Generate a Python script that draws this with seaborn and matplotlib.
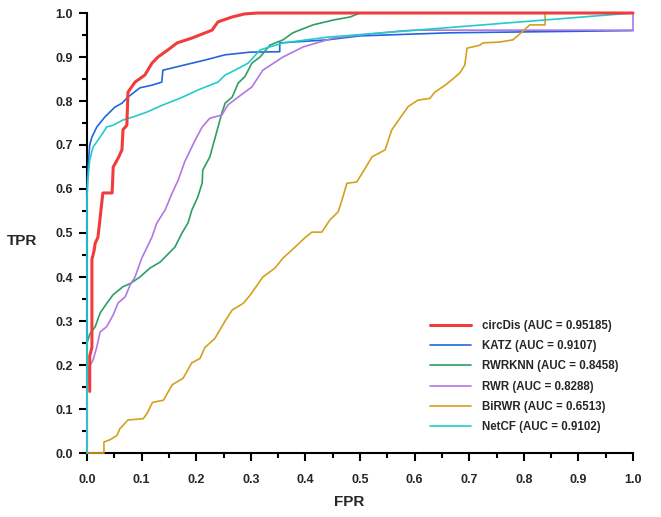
import matplotlib
matplotlib.use('Agg')
import matplotlib.pyplot as plt
from matplotlib.ticker import MultipleLocator, FormatStrFormatter
import pandas as pd
import seaborn as sns

# ROC points (FPR, TPR)
circdis_fpr = [0.005, 0.005, 0.009, 0.009, 0.013, 0.015, 0.020, 0.024, 0.029, 0.046, 0.048, 0.057,
               0.064, 0.066, 0.073, 0.075, 0.088, 0.106, 0.119, 0.130, 0.148, 0.165, 0.192, 0.229,
               0.240, 0.266, 0.289, 0.313, 1.0]
circdis_tpr = [0.14, 0.22, 0.24, 0.44, 0.46, 0.477, 0.49, 0.534, 0.591, 0.591, 0.65, 0.67,
               0.689, 0.735, 0.745, 0.82, 0.843, 0.859, 0.886, 0.90, 0.916, 0.932, 0.943, 0.961,
               0.98, 0.991, 0.998, 1.0, 1.0]

katz_fpr = [0, 0, 0.002, 0.005, 0.009, 0.018, 0.033, 0.051, 0.064, 0.075, 0.097, 0.119, 0.137,
            0.139, 0.179, 0.216, 0.253, 0.299, 0.353, 0.353, 0.44, 0.5, 0.665, 1.0]
katz_tpr = [0, 0.60, 0.65, 0.70, 0.718, 0.741, 0.764, 0.786, 0.795, 0.809, 0.83, 0.836, 0.843,
            0.87, 0.882, 0.893, 0.905, 0.911, 0.912, 0.932, 0.939, 0.948, 0.955, 0.96]

rwrknn_fpr = [0, 0, 0.005, 0.015, 0.024, 0.036, 0.048, 0.066, 0.079, 0.097, 0.115, 0.134, 0.161,
              0.174, 0.185, 0.192, 0.203, 0.211, 0.212, 0.225, 0.24, 0.247, 0.253, 0.266, 0.277,
              0.289, 0.302, 0.317, 0.335, 0.359, 0.377, 0.414, 0.451, 0.482, 0.50, 1.0]
rwrknn_tpr = [0, 0.25, 0.27, 0.287, 0.318, 0.34, 0.36, 0.378, 0.385, 0.40, 0.42, 0.434, 0.468,
              0.50, 0.523, 0.552, 0.582, 0.614, 0.643, 0.673, 0.741, 0.773, 0.795, 0.809, 0.841,
              0.855, 0.886, 0.90, 0.927, 0.939, 0.955, 0.973, 0.984, 0.991, 1.0, 1.0]

rwr_fpr = [0, 0, 0.004, 0.011, 0.018, 0.024, 0.036, 0.048, 0.057, 0.07, 0.079, 0.088, 0.10,
           0.119, 0.128, 0.143, 0.156, 0.167, 0.179, 0.198, 0.211, 0.225, 0.247, 0.258, 0.277,
           0.302, 0.322, 0.359, 0.396, 0.451, 0.50, 0.573, 0.60, 1.0, 1.0]
rwr_tpr = [0, 0.14, 0.196, 0.211, 0.241, 0.275, 0.287, 0.314, 0.341, 0.355, 0.382, 0.40, 0.442,
           0.491, 0.523, 0.552, 0.591, 0.62, 0.662, 0.711, 0.741, 0.761, 0.768, 0.791, 0.809,
           0.832, 0.87, 0.90, 0.923, 0.943, 0.95, 0.959, 0.961, 0.961, 1.0]

birwr_fpr = [0, 0.031, 0.031, 0.042, 0.055, 0.06, 0.075, 0.103, 0.11, 0.12, 0.14, 0.156, 0.176,
             0.192, 0.207, 0.216, 0.234, 0.253, 0.266, 0.286, 0.299, 0.322, 0.344, 0.359, 0.375,
             0.399, 0.412, 0.43, 0.445, 0.46, 0.467, 0.476, 0.494, 0.506, 0.522, 0.546, 0.558,
             0.567, 0.588, 0.606, 0.628, 0.637, 0.656, 0.668, 0.683, 0.692, 0.696, 0.72, 0.725,
             0.756, 0.78, 0.797, 0.811, 0.839, 0.839, 1.0]
birwr_tpr = [0, 0, 0.025, 0.03, 0.04, 0.055, 0.075, 0.078, 0.09, 0.115, 0.12, 0.155, 0.17,
             0.205, 0.215, 0.24, 0.26, 0.30, 0.325, 0.34, 0.359, 0.40, 0.42, 0.443, 0.461,
             0.489, 0.502, 0.502, 0.53, 0.548, 0.575, 0.613, 0.616, 0.64, 0.673, 0.689, 0.734,
             0.75, 0.787, 0.802, 0.806, 0.82, 0.836, 0.848, 0.864, 0.882, 0.92, 0.927, 0.932,
             0.934, 0.939, 0.957, 0.973, 0.973, 1.0, 1.0]

netcf_fpr = [0, 0, 0.002, 0.005, 0.011, 0.02, 0.029, 0.036, 0.048, 0.066, 0.085, 0.11, 0.139,
             0.17, 0.207, 0.24, 0.253, 0.271, 0.295, 0.317, 0.359, 0.44, 1.0]
netcf_tpr = [0, 0.58, 0.627, 0.666, 0.695, 0.711, 0.727, 0.741, 0.745, 0.757, 0.764, 0.775, 0.791,
             0.806, 0.827, 0.843, 0.859, 0.87, 0.886, 0.916, 0.932, 0.945, 1.0]

labels = ['circDis (AUC = 0.95185)', 'KATZ (AUC = 0.9107)', 'RWRKNN (AUC = 0.8458)',
          'RWR (AUC = 0.8288)', 'BiRWR (AUC = 0.6513)', 'NetCF (AUC = 0.9102)']
colors = ['#f03c3c', '#2266dd', '#2e9e62', '#b277e0', '#d4a11e', '#22cccc']
widths = [2.2, 1.2, 1.2, 1.2, 1.2, 1.2]

curves = [(circdis_fpr, circdis_tpr), (katz_fpr, katz_tpr), (rwrknn_fpr, rwrknn_tpr),
          (rwr_fpr, rwr_tpr), (birwr_fpr, birwr_tpr), (netcf_fpr, netcf_tpr)]

sns.set_style('ticks')
plt.rcParams['font.family'] = ['Liberation Sans', 'DejaVu Sans']
plt.rcParams['font.weight'] = 'bold'

fig = plt.figure(figsize=(6.61, 5.17), dpi=100)
ax = fig.add_axes([87 / 661, 1 - 453 / 517, 546 / 661, 440 / 517])

zorders = [8, 3, 4, 5, 6, 7]
for (fpr, tpr), lab, col, lw, zo in zip(curves, labels, colors, widths, zorders):
    df = pd.DataFrame({'FPR': fpr, 'TPR': tpr})
    sns.lineplot(data=df, x='FPR', y='TPR', sort=False, estimator=None, color=col,
                 linewidth=lw, label=lab, ax=ax, zorder=zo, clip_on=False)

ax.set_xlim(0, 1)
ax.set_ylim(0, 1)
ax.xaxis.set_major_locator(MultipleLocator(0.1))
ax.xaxis.set_minor_locator(MultipleLocator(0.05))
ax.yaxis.set_major_locator(MultipleLocator(0.1))
ax.yaxis.set_minor_locator(MultipleLocator(0.05))
ax.xaxis.set_major_formatter(FormatStrFormatter('%.1f'))
ax.yaxis.set_major_formatter(FormatStrFormatter('%.1f'))
sns.despine(ax=ax)
for s in ['left', 'bottom']:
    ax.spines[s].set_linewidth(1.5)
    ax.spines[s].set_color('black')
ax.tick_params(which='major', direction='out', length=6, width=1.5, color='black',
               labelsize=9)
ax.tick_params(which='minor', direction='out', length=3.5, width=1.5, color='black')
ax.tick_params(axis='x', which='major', pad=9)
ax.tick_params(axis='y', which='major', pad=4)
for t in ax.get_xticklabels() + ax.get_yticklabels():
    t.set_fontweight('bold')
ax.set_xlabel('')
ax.set_ylabel('')

fig.text(22 / 661, 1 - 241 / 517, 'TPR', fontsize=11, fontweight='bold', ha='center', va='center')
fig.text(349 / 661, 1 - 502 / 517, 'FPR', fontsize=11, fontweight='bold', ha='center', va='center')

leg = ax.legend(loc='lower left', bbox_to_anchor=(0.628, 0.045), frameon=False, borderpad=0,
                borderaxespad=0, handlelength=3.6, handletextpad=0.9, labelspacing=0.72,
                prop={'size': 8.3, 'weight': 'bold'})

fig.savefig('out.png', dpi=100)
